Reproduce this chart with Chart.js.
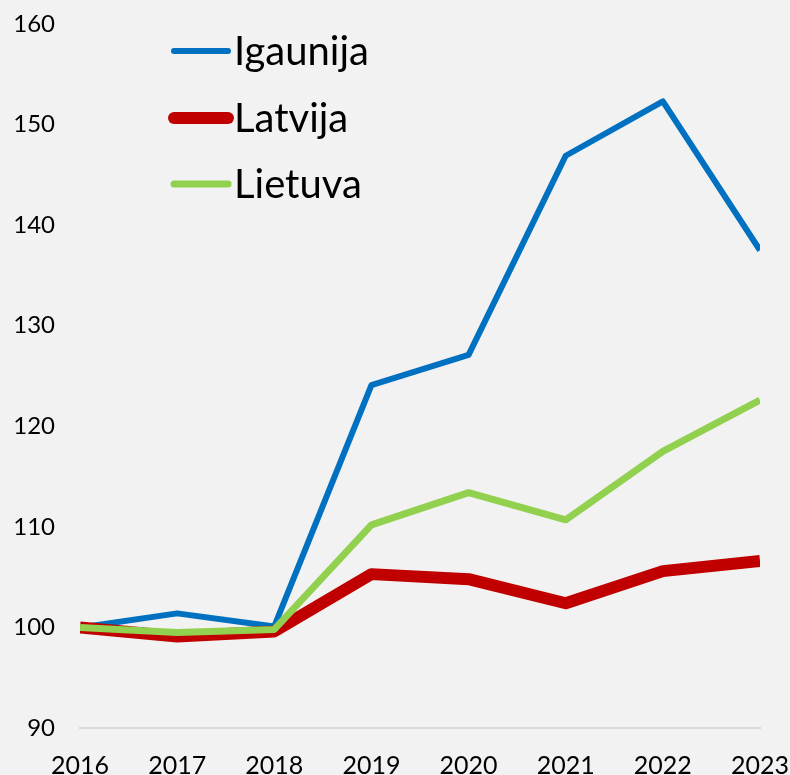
<!DOCTYPE html>
<html>
<head>
<meta charset="utf-8">
<script src="https://cdn.jsdelivr.net/npm/chart.js@4"></script>
<style>
  html, body { margin: 0; padding: 0; background: #f2f2f2; }
  #chart { display: block; }
</style>
</head>
<body>
<canvas id="chart" width="790" height="775"></canvas>
<script>
// gadi
var years = ['2016', '2017', '2018', '2019', '2020', '2021', '2022', '2023'];

// indekss, 2016 = 100
var igaunija = [100, 101.4, 100.1, 124.1, 127.1, 146.9, 152.3, 137.5];
var latvija  = [100, 99.1, 99.6, 105.3, 104.8, 102.4, 105.6, 106.6];
var lietuva  = [100, 99.5, 99.8, 110.2, 113.4, 110.7, 117.5, 122.6];

var yTicks = [90, 100, 110, 120, 130, 140, 150, 160];

var FONT = 'Lato, "Noto Sans", sans-serif';

// legenda augšējā kreisajā stūrī
var legendPlugin = {
    id: 'sideLegend',
    afterDraw: function(chart) {
        var ctx = chart.ctx;
        var rows = [51, 118, 184];
        ctx.save();
        chart.data.datasets.forEach(function(ds, i) {
            var y = rows[i];
            ctx.strokeStyle = ds.borderColor;
            ctx.lineWidth = ds.borderWidth;
            ctx.lineCap = 'round';
            ctx.beginPath();
            ctx.moveTo(174, y);
            ctx.lineTo(228, y);
            ctx.stroke();
            ctx.fillStyle = '#000000';
            ctx.font = '40px ' + FONT;
            ctx.textBaseline = 'middle';
            ctx.textAlign = 'left';
            ctx.fillText(ds.label, 234, y + 1);
        });
        ctx.restore();
    }
};

var ctx = document.getElementById('chart').getContext('2d');
var chart = new Chart(ctx, {
    type: 'line',
    data: {
        labels: years,
        datasets: [{
            label: 'Igaunija',
            data: igaunija,
            borderColor: '#0070c0',
            borderWidth: 6,
            order: 3
        }, {
            label: 'Latvija',
            data: latvija,
            borderColor: '#c00000',
            borderWidth: 12,
            order: 2
        }, {
            label: 'Lietuva',
            data: lietuva,
            borderColor: '#92d050',
            borderWidth: 7,
            order: 1
        }]
    },
    options: {
        responsive: false,
        animation: false,
        clip: 0,
        elements: {
            point: { radius: 0, hoverRadius: 0 },
            line: { tension: 0, borderJoinStyle: 'round', borderCapStyle: 'butt', fill: false }
        },
        layout: { padding: { top: 24, right: 30, left: 0, bottom: 0 } },
        scales: {
            x: {
                offset: false,
                grid: { display: false },
                border: { display: true, color: '#d9d9d9', width: 2 },
                ticks: { color: '#000000', font: { family: FONT, size: 25 }, padding: 15, maxRotation: 0 },
                afterFit: function(scale) {
                    scale.height = 47;
                    scale.paddingLeft = 0;
                    scale.paddingRight = 0;
                }
            },
            y: {
                min: 90,
                max: 160,
                grid: { display: false },
                border: { display: false },
                afterBuildTicks: function(scale) {
                    scale.ticks = yTicks.map(function(v) { return { value: v }; });
                },
                ticks: { color: '#000000', font: { family: FONT, size: 24 }, padding: 17 },
                afterFit: function(scale) {
                    scale.width = 80;
                    scale.paddingTop = 0;
                    scale.paddingBottom = 0;
                }
            }
        },
        plugins: {
            legend: { display: false },
            tooltip: { enabled: false }
        }
    },
    plugins: [legendPlugin]
});
</script>
</body>
</html>
